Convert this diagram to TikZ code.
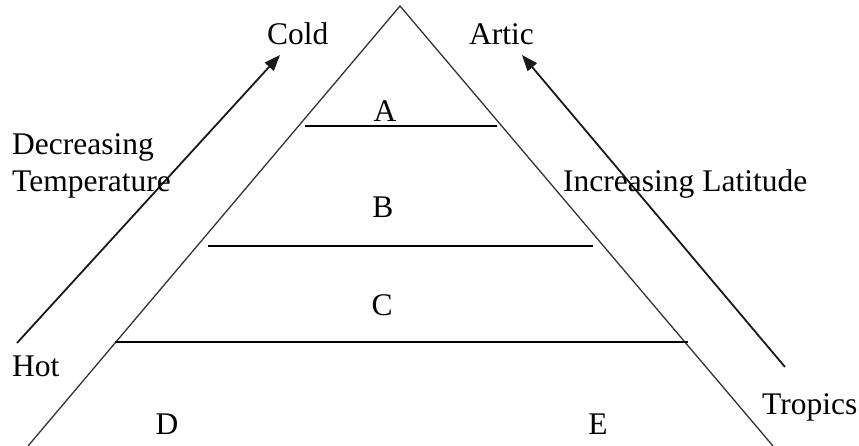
\documentclass[tikz,border=0pt]{standalone}
\usepackage{fontspec}
\setmainfont{Liberation Serif}
\usetikzlibrary{arrows.meta}
\begin{document}
\begin{tikzpicture}[x=1pt,y=1pt,
  lbl/.style={inner sep=0pt,font=\fontsize{31.5}{36}\selectfont},
  edge/.style={line width=1.3pt,draw=black!80},
  band/.style={line width=1.5pt,draw=black},
  arr/.style={line width=1.8pt,draw=black!90,-{Triangle[length=16pt,width=12pt]}}]
\useasboundingbox (0,0) rectangle (859,446);
% triangle
\coordinate (apex) at (400,440);
\coordinate (bl) at (28,0);
\coordinate (br) at (773,0);
\draw[edge] (bl) -- (apex) -- (br);
% band lines
\coordinate (a1) at (305,320); \coordinate (a2) at (497,320);
\coordinate (b1) at (208,200); \coordinate (b2) at (593,200);
\coordinate (c1) at (115,104); \coordinate (c2) at (688,104);
\draw[band] (a1) -- (a2);
\draw[band] (b1) -- (b2);
\draw[band] (c1) -- (c2);
% arrows
\coordinate (l1) at (17,103); \coordinate (l2) at (280,391);
\coordinate (r1) at (785,79); \coordinate (r2) at (522,391);
\draw[arr] (l1) -- (l2);
\draw[arr] (r1) -- (r2);
% labels
\node[lbl,anchor=base west] (cold) at (267,401) {Cold};
\node[lbl,anchor=base west] (artic) at (469,401) {Artic};
\node[lbl,anchor=base] (A) at (385,324) {A};
\node[lbl,anchor=base] (B) at (383,228) {B};
\node[lbl,anchor=base] (C) at (382,130) {C};
\node[lbl,anchor=base] (D) at (167,11) {D};
\node[lbl,anchor=base] (E) at (598,11) {E};
\node[lbl,anchor=base west] (dec) at (12,291) {Decreasing};
\node[lbl,anchor=base west] (temp) at (12,254) {Temperature};
\node[lbl,anchor=base west] (hot) at (12,69) {Hot};
\node[lbl,anchor=base west] (inc) at (563,254) {Increasing Latitude};
\node[lbl,anchor=base west] (trop) at (762,31) {Tropics};
\end{tikzpicture}
\end{document}
